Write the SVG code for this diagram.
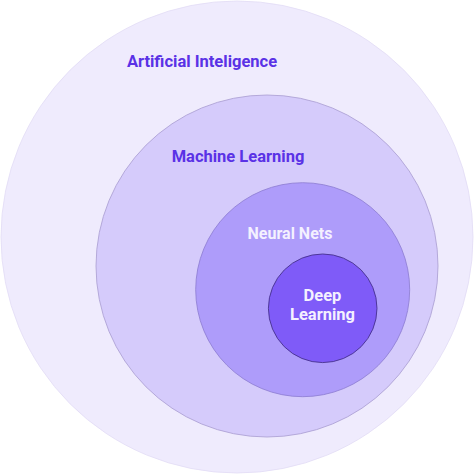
<svg xmlns="http://www.w3.org/2000/svg" width="474" height="474" viewBox="0 0 474 474">
<style>
.c{stroke-width:0.8}
.t{font-family:Roboto,"Liberation Sans",sans-serif;font-weight:700;text-anchor:middle}
.dark{fill:#5a32e6}
.light{fill:#f4f1ff}
</style>
<rect width="474" height="474" fill="#ffffff"/>
<g id="ai">
<circle class="c" cx="237" cy="237" r="236" fill="#efebfd" stroke="#e2dcf5"/>
<text class="t dark" x="202" y="67" font-size="16.5">Artificial Inteligence</text>
</g>
<g id="ml">
<circle class="c" cx="267" cy="266" r="171" fill="#d5cbfb" stroke="#a89cd0"/>
<text class="t dark" x="238" y="162" font-size="16.5">Machine Learning</text>
</g>
<g id="nn">
<circle class="c" cx="302.7" cy="289.7" r="107" fill="#ae9cfa" stroke="#8c7bd0"/>
<text class="t light" x="290" y="239" font-size="16">Neural Nets</text>
</g>
<g id="dl">
<circle class="c" cx="322.7" cy="308.3" r="54.3" fill="#7f5bf8" stroke="#3e2a80"/>
<text class="t light" x="322.5" y="301" font-size="16.5">Deep</text>
<text class="t light" x="322.5" y="320" font-size="16.5">Learning</text>
</g>
<g id="connectors"></g>
</svg>
